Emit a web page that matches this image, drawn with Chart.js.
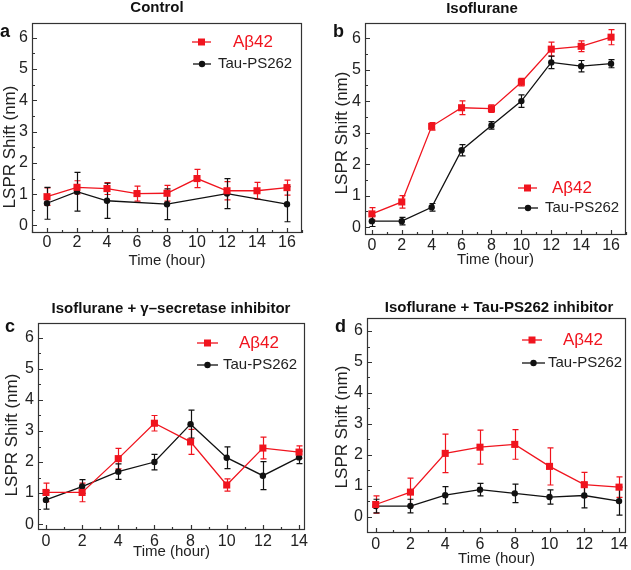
<!DOCTYPE html>
<html>
<head>
<meta charset="utf-8">
<script src="https://cdn.jsdelivr.net/npm/chart.js@4.4.0/dist/chart.umd.min.js"></script>
<style>
  body { margin: 0; background: #fff; }
  #wrap { position: relative; width: 631px; height: 570px; overflow: hidden; }
  canvas { position: absolute; }
</style>
</head>
<body>
<div id="wrap">
  <canvas id="chartA" width="315" height="285" style="left:0;top:0"></canvas>
  <canvas id="chartB" width="316" height="285" style="left:315px;top:0"></canvas>
  <canvas id="chartC" width="315" height="285" style="left:0;top:285px"></canvas>
  <canvas id="chartD" width="316" height="285" style="left:315px;top:285px"></canvas>
</div>
<script>
const FONT = '"Liberation Sans", Arial, sans-serif';
Chart.defaults.font.family = FONT;
Chart.defaults.color = "#222";

const RED = "#f0141e";
const BLACK = "#111111";

// time points (hours) and tick labels
const hours16 = [0, 2, 4, 6, 8, 10, 12, 14, 16];
const hours14 = [0, 2, 4, 6, 8, 10, 12, 14];
const yTicks = [0, 1, 2, 3, 4, 5, 6];

// a - Control
const controlAb = [0.92, 1.22, 1.18, 1.02, 1.03, 1.5, 1.11, 1.11, 1.21];
const controlAbErr = [0.28, 0.21, 0.19, 0.24, 0.25, 0.29, 0.29, 0.27, 0.24];
const controlTau = [0.71, 1.08, 0.79, null, 0.68, null, 1.02, null, 0.68];
const controlTauErr = [0.51, 0.62, 0.56, null, 0.49, null, 0.48, null, 0.56];

// b - Isoflurane
const isoAb = [0.42, 0.8, 3.2, 3.79, 3.76, 4.6, 5.65, 5.74, 6.03];
const isoAbErr = [0.2, 0.2, 0.12, 0.22, 0.12, 0.12, 0.22, 0.17, 0.24];
const isoTau = [0.19, 0.19, 0.63, 2.44, 3.23, 4.0, 5.23, 5.11, 5.19];
const isoTauErr = [0.17, 0.12, 0.12, 0.18, 0.12, 0.2, 0.2, 0.18, 0.13];

// c - Isoflurane + gamma-secretase inhibitor
const gammaAb = [1.02, 1.02, 2.11, 3.25, 2.65, 1.26, 2.45, 2.32];
const gammaAbErr = [0.3, 0.3, 0.33, 0.25, 0.4, 0.2, 0.35, 0.2];
const gammaTau = [0.78, 1.21, 1.69, 2.0, 3.22, 2.14, 1.56, 2.15];
const gammaTauErr = [0.3, 0.22, 0.25, 0.25, 0.45, 0.35, 0.45, 0.2];

// d - Isoflurane + Tau-PS262 inhibitor
const tauInhAb = [0.4, 0.8, 2.05, 2.25, 2.34, 1.63, 1.04, 0.96];
const tauInhAbErr = [0.28, 0.45, 0.62, 0.55, 0.48, 0.6, 0.4, 0.33];
const tauInhTau = [0.35, 0.35, 0.7, 0.88, 0.76, 0.64, 0.69, 0.51];
const tauInhTauErr = [0.22, 0.22, 0.28, 0.2, 0.3, 0.23, 0.4, 0.45];

const panelDecor = {
  id: "panelDecor",
  beforeDatasetsDraw(chart) {
    const { ctx, chartArea, scales: { x, y } } = chart;
    ctx.save();
    ctx.beginPath();
    ctx.rect(chartArea.left, chartArea.top, chartArea.right - chartArea.left, chartArea.bottom - chartArea.top);
    ctx.clip();
    chart.data.datasets.forEach((ds) => {
      ctx.strokeStyle = ds.borderColor;
      ctx.lineWidth = 1.2;
      ds.data.forEach((p, i) => {
        const e = ds.errors[i];
        if (p.y == null || e == null) return;
        const px = Math.round(x.getPixelForValue(p.x)) + 0.5;
        const t = y.getPixelForValue(p.y + e);
        const b = y.getPixelForValue(p.y - e);
        ctx.beginPath();
        ctx.moveTo(px, t); ctx.lineTo(px, b);
        ctx.moveTo(px - 3, t); ctx.lineTo(px + 3, t);
        ctx.moveTo(px - 3, b); ctx.lineTo(px + 3, b);
        ctx.stroke();
      });
    });
    ctx.restore();
  },
  afterDraw(chart, args, opts) {
    const { ctx, chartArea: ca, scales: { x, y } } = chart;
    ctx.save();
    // frame
    ctx.strokeStyle = "#333";
    ctx.lineWidth = 1.2;
    ctx.strokeRect(Math.round(ca.left) + 0.5, Math.round(ca.top) + 0.5,
      Math.round(ca.right - ca.left) - 1, Math.round(ca.bottom - ca.top) - 1);
    // inward ticks, major and minor
    ctx.beginPath();
    for (let v = Math.ceil(y.min * 2) / 2; v <= y.max; v += 0.5) {
      const py = Math.round(y.getPixelForValue(v)) + 0.5;
      const len = Number.isInteger(v) ? 5 : 3;
      ctx.moveTo(ca.left, py); ctx.lineTo(ca.left + len, py);
    }
    for (let v = Math.ceil(x.min); v <= x.max; v += 1) {
      const px = Math.round(x.getPixelForValue(v)) + 0.5;
      const len = v % 2 === 0 ? 5 : 3;
      ctx.moveTo(px, ca.bottom); ctx.lineTo(px, ca.bottom - len);
    }
    ctx.stroke();

    // legend
    chart.data.datasets.forEach((ds, i) => {
      const L = opts.legend[i];
      ctx.strokeStyle = ds.borderColor;
      ctx.fillStyle = ds.borderColor;
      ctx.lineWidth = 1.3;
      ctx.beginPath();
      ctx.moveTo(L.x1, L.y); ctx.lineTo(L.x2, L.y);
      ctx.stroke();
      const mx = (L.x1 + L.x2) / 2;
      ctx.beginPath();
      if (ds.pointStyle === "rect") ctx.rect(mx - 3.5, L.y - 3.5, 7, 7);
      else ctx.arc(mx, L.y, 3.2, 0, Math.PI * 2);
      ctx.fill();
      ctx.font = (i === 0 ? "17px " : "15px ") + FONT;
      ctx.textBaseline = "middle";
      ctx.textAlign = "left";
      ctx.fillStyle = i === 0 ? RED : "#222";
      ctx.fillText(ds.label, L.tx, L.y);
    });

    // panel letter, title, y axis title
    ctx.fillStyle = "#111";
    ctx.font = "bold 18px " + FONT;
    ctx.textBaseline = "alphabetic";
    ctx.textAlign = "left";
    ctx.fillText(opts.letter.text, opts.letter.x, opts.letter.y);
    ctx.font = "bold 15px " + FONT;
    ctx.textAlign = "center";
    ctx.textBaseline = "middle";
    ctx.fillText(opts.title.text, opts.title.x, opts.title.y);
    ctx.fillStyle = "#222";
    ctx.font = "17px " + FONT;
    ctx.translate(opts.yTitle.x, opts.yTitle.y);
    ctx.rotate(-Math.PI / 2);
    ctx.fillText("LSPR Shift (nm)", 0, 0);
    ctx.restore();
  }
};

function makePanel(id, p) {
  const ticksX = p.hours;
  const datasets = [
    { label: "Aβ42", data: p.hours.map((h, i) => ({ x: h, y: p.ab[i] })), errors: p.abErr,
      borderColor: RED, backgroundColor: RED, pointStyle: "rect", pointRadius: 5,
      pointBorderWidth: 0, borderWidth: 1.3, spanGaps: true },
    { label: "Tau-PS262", data: p.hours.map((h, i) => ({ x: h, y: p.tau[i] })), errors: p.tauErr,
      borderColor: BLACK, backgroundColor: BLACK, pointStyle: "circle", pointRadius: 3.2,
      pointBorderWidth: 0, borderWidth: 1.3, spanGaps: true }
  ];
  return new Chart(document.getElementById(id), {
    type: "line",
    data: { datasets },
    plugins: [panelDecor],
    options: {
      responsive: false,
      animation: false,
      layout: { padding: { left: 0, top: p.box.top, right: p.box.right, bottom: 0 } },
      scales: {
        x: {
          type: "linear", min: p.xMin, max: p.xMax,
          afterBuildTicks: (s) => { s.ticks = ticksX.map((v) => ({ value: v })); },
          afterFit: (s) => { s.height = p.box.xHeight; },
          grid: { display: false, drawTicks: false }, border: { display: false },
          ticks: { font: { size: 16 }, color: "#222", padding: p.box.xTickPad, maxRotation: 0, autoSkip: false },
          title: { display: true, text: "Time (hour)", font: { size: 15 }, color: "#222",
            padding: { top: 0, bottom: p.box.xTitlePad } }
        },
        y: {
          type: "linear", min: p.yMin, max: p.yMax,
          afterBuildTicks: (s) => { s.ticks = yTicks.map((v) => ({ value: v })); },
          afterFit: (s) => { s.width = p.box.left; },
          grid: { display: false, drawTicks: false }, border: { display: false },
          ticks: { font: { size: 16 }, color: "#222", padding: 4 }
        }
      },
      plugins: {
        legend: { display: false },
        tooltip: { enabled: false },
        panelDecor: { legend: p.legend, letter: p.letter, title: p.title, yTitle: p.yTitle }
      }
    }
  });
}

makePanel("chartA", {
  hours: hours16, ab: controlAb, abErr: controlAbErr, tau: controlTau, tauErr: controlTauErr,
  xMin: -1, xMax: 17, yMin: -0.24, yMax: 6.47,
  box: { left: 32, top: 23, right: 13, xHeight: 52, xTickPad: 0, xTitlePad: 15 },
  legend: [{ x1: 192, x2: 211, y: 42, tx: 233 }, { x1: 193, x2: 211, y: 64, tx: 218 }],
  letter: { text: "a", x: 0, y: 37 },
  title: { text: "Control", x: 157, y: 8 },
  yTitle: { x: 10, y: 147 }
});

makePanel("chartB", {
  hours: hours16, ab: isoAb, abErr: isoAbErr, tau: isoTau, tauErr: isoTauErr,
  xMin: -0.46, xMax: 17, yMin: -0.25, yMax: 6.48,
  box: { left: 50, top: 23, right: 3, xHeight: 50, xTickPad: 1, xTitlePad: 16 },
  legend: [{ x1: 203, x2: 222, y: 188, tx: 237 }, { x1: 203, x2: 223, y: 208, tx: 230 }],
  letter: { text: "b", x: 18, y: 37 },
  title: { text: "Isoflurane", x: 167, y: 9 },
  yTitle: { x: 27, y: 133 }
});

makePanel("chartC", {
  hours: hours14, ab: gammaAb, abErr: gammaAbErr, tau: gammaTau, tauErr: gammaTauErr,
  xMin: -0.44, xMax: 14.33, yMin: -0.19, yMax: 6.48,
  box: { left: 38, top: 38, right: 10, xHeight: 40, xTickPad: 2, xTitlePad: 9 },
  legend: [{ x1: 197, x2: 218, y: 58, tx: 239 }, { x1: 197, x2: 218, y: 80, tx: 223 }],
  letter: { text: "c", x: 5, y: 47 },
  title: { text: "Isoflurane + γ–secretase inhibitor", x: 171, y: 24 },
  yTitle: { x: 12, y: 150 }
});

makePanel("chartD", {
  hours: hours14, ab: tauInhAb, abErr: tauInhAbErr, tau: tauInhTau, tauErr: tauInhTauErr,
  xMin: -0.5, xMax: 14.4, yMin: -0.52, yMax: 6.42,
  box: { left: 52, top: 33, right: 1, xHeight: 37, xTickPad: 2, xTitlePad: 2 },
  legend: [{ x1: 207, x2: 227, y: 55, tx: 248 }, { x1: 207, x2: 230, y: 78, tx: 233 }],
  letter: { text: "d", x: 20, y: 47 },
  title: { text: "Isoflurane + Tau-PS262 inhibitor", x: 184, y: 23 },
  yTitle: { x: 27, y: 142 }
});
</script>
</body>
</html>
